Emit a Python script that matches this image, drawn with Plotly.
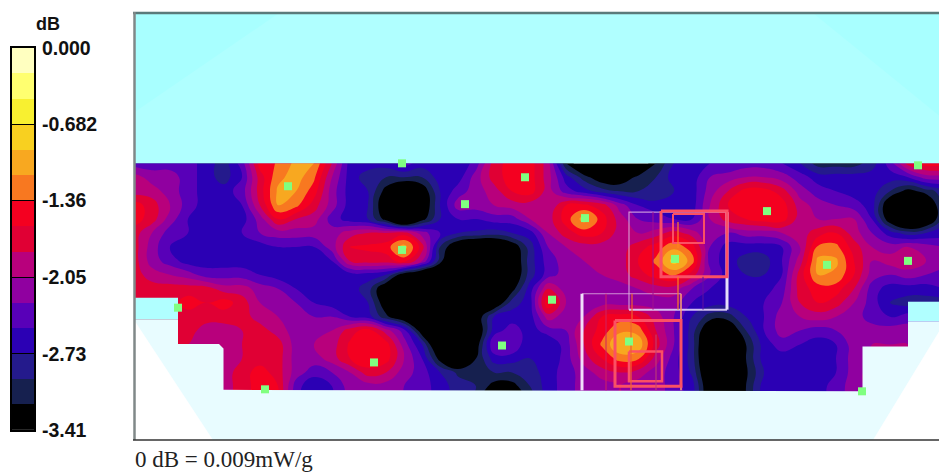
import plotly.graph_objects as go

grid_x = [134,152,170,188,206,224,242,260,278,296,314,332,350,368,386,404,422,440,458,476,494,512,
          530,548,566,584,602,620,638,656,674,692,710,728,746,764,782,800,818,836,854,872,890,908,926,944]
grid_y = [163,177,191,205,219,233,247,261,275,289,303,317,331,345,359,373,387,401]
field_bands = [
 [4,4,4,4,3,2,4,8,8.6,9.8,9.5,6.5,3,3,3,4,3,3,2.5,4,7,8, 8,6,0.5,-2,-2,-2,-2,0.5,2.5,3,3.5,3.5,4,4,3.5,2.5,1,1,1,2,4,7,8,8],
 [6,5,5,4,3,2,3.5,7,9.2,10,8.7,5.5,3,2,1.5,1.5,1.5,3,3,5,7,8, 8,6,3,1,-0.5,-0.5,0.8,1.5,3,3,4.5,5,5.5,5.5,5,4,3,3,3,3,3,3.5,5,5],
 [6,6,5,4,3,3,4,7,9.7,9.5,8,5,3,2.5,0,-2,-0.5,2.5,4,5,6,7.5, 8,6,4,3,2,1.5,1.5,1.5,2.5,3,5,6.5,8,8,7,5,4,3.5,3,3,1.5,0,1,2],
 [8,7,5.5,4,3,2.5,3.5,6.5,9.5,8.8,7,5,3,2.5,-1,-3,-1,2.5,5,5,5.5,6, 6,5.5,7.5,7.7,7,5,3.5,3,3,3,5.5,7.5,8,8,8,6,5,4.5,4,3,-1,-3,-1.5,2],
 [8,7,5,3.5,3,3,3,5,7.5,6.5,6,4,3,2.5,0,-4,0,2.5,3.5,3.5,4,4, 5.5,6,8,10,8,6,4.5,4,3.5,3.5,5.5,7,7.5,8,8,6,5.5,5.5,5.5,3.5,-0.5,-3,-1.5,2],
 [7,5.5,4,3.5,3,3,3.5,4.5,5,5,5,5,6,6.5,6.5,7,5,3.5,2.5,2.3,2,2.5, 3,5.5,7,8,7.5,6,5.5,6,7,6,4.5,4.5,5,5,5.5,6,7,7.5,6,4.5,3,2,2.5,3],
 [7,5,3.5,3,3,3,3,3,3.5,3.5,3.5,5,7.5,7.7,8,10,7,1.5,-1,-2,-2,-0.5, 2,4.5,5.5,6,6,6,7,8,9.2,8,4.5,3,3,3,3.5,5.5,8.7,8.8,7,5.5,5,5.5,5,4.5],
 [7,5,4,3,3,3,3,3,3,3,2.5,3.5,6.5,7,7,8,5.5,1,-2,-3,-3,-1, 2,4,5,5.5,6,6,7.5,8.7,11,9,4,3,2,2,3.5,6,9.8,9.7,7.5,5.5,6,6.3,5.5,5],
 [7,6,5.5,5,4,4,4,3.5,3,3,3,3,3,3,2.5,-0.5,-2,-3,-3,-3,-3,-1, 2,4,5,5,5.5,6,7,8,8.7,7,4.5,3,2.5,2.5,3.5,7,9.5,9.3,7.5,5,4.5,5,4.5,4],
 [7,7,7,7,7,6,6,5,4.5,3.5,3,3,3,2,-1,-3,-3,-3,-3,-3,-2,0, 3,6.5,5,5,5,5,5.5,6,6,4.5,3.5,3,3,3,4,7,8,8,6.5,4,3,3,3,3.5],
 [7,7,7,8,7.5,8,7,5.5,5,4.5,3.5,3,3,2.5,-0.5,-3,-3,-3,-3,-2,-1,2, 3,8.5,5.5,5,5,5,5,5,5,3.5,3,3,3,3.5,4.5,6.5,7.5,7,5.5,4,2.5,2,2,2],
 [7,7,7,7,7,7,7,6,5.5,5,4.5,4.5,3.5,3,0.8,-1,-3,-3,-2,-0.5,2.5,3, 3,6,5,5.5,7.5,8,7.5,6,4.5,2.5,1,1,2.5,3.5,5,5.5,6,5.5,5,4,3.5,4,4,4],
 [7,7,7,7,6,6,6.5,7,6,5,5,5.5,7,8,6,4,-0.5,-3,-3,-1,3,4, 3,4,4.5,6.5,8,9.3,9.1,6.5,4.5,2,-1,-1,1.5,3.5,5,4.5,4,4.5,5,5,5,5,5,5],
 [7,7,7,6.5,6,6,6.5,7,7,5,5.5,6,7.7,8.5,8,5,2.5,-2,-3,-0.3,4.5,4.5, 2.5,2.5,4,6.5,8.7,10.5,10.3,7,4.5,2,-2,-3,0.5,3,4,3.5,3,3.5,5,5.5,5.5,5.5,5,5],
 [6,6,6,6,6,6,6.5,7,7,5,5,6,7.5,8.5,8,5.5,3.5,0,-2,0.5,3,3, 2.5,2.5,4,6,7.5,9,8.7,6,4,2,-2,-3,0.5,3,3,3,3,3.5,5,5.5,5.5,5.5,5,5],
 [6,6,6,6,6,6,7,8,7,5,4,4.5,5.5,7,6.5,5,4,2.5,1.3,1.3,1.5,1.5, 2,3,4,5,6,6.5,6,5,4,2.3,-1.5,-3,0.3,2.5,2.5,2.5,2.5,3.5,5,6,6,6,5,5],
 [6,6,6,6,6,6,7,8,7.5,4,2.5,3.5,5,5,5,4.5,4,3,2,1.5,0,0, 1.5,3,4,5,5,5.5,5,5,4,3,-1,-3,0.5,3,3,3,3,4,5,6,6,6,5,5],
 [6,6,6,6,6,6,7,8,7.5,4,2.5,3.5,5,5,5,4.5,4,3,2,1,-2,-2, 1,3,4,5,5,5.5,5,5,4,3,-1,-3,0.5,3,3,3,3,4,5,6,6,6,5,5],
]

db_min = -3.41
db_step = 3.41 / 15
band_colors = ["#000000","#16204f","#241a8c","#2b00b4","#5800b8","#9000a0","#b8007c",
               "#e00034","#f40020","#f87820","#f8a820","#f8d020","#f8f030","#ffff70","#ffffc0"]
tick_values = [0, -0.682, -1.36, -2.05, -2.73, -3.41]
tick_labels = ["0.000", "-0.682", "-1.36", "-2.05", "-2.73", "-3.41"]

# Peak-search points
point_x = [402,918,288,525,465,767,585,908,402,675,827,552,178,502,629,374,265,862]
point_y = [163,165,186,177,204,211,218,261,250,259,265,300,308,346,342,363,390,392]

# Background regions: (colour, xs, ys)
regions = [
 ("#b0ffff", [134,939,939,134], [12,12,163,163]),
 ("#a8ffff", [134,279,134], [12,12,112]),
 ("#a8ffff", [813,939,939], [12,12,115]),
 ("#b0ffff", [134,178,178,134], [298,298,320,320]),
 ("#b0ffff", [908,939,939,908], [302,302,322,322]),
 ("#e8fcff", [134,178,178,219,223.5,223.5,862.5,862.5,908,908,939,939,134],
             [320,320,344.5,344.5,349,390.5,392,347,347,322,322,441,441]),
 ("#ffffff", [134,213,134], [320,441,441]),
 ("#ffffff", [873,939,939], [441,441,332]),
]

# Zoom-scan frames: (colour, width, xs, ys)
frames = [
 ("rgba(225,180,225,0.8)", 1.2, [629,629,727], [310,212,212]),
 ("rgba(225,210,250,0.9)", 2, [629,727], [310,310]),
 ("rgba(240,235,255,0.95)", 3, [727,727], [212,310]),
 ("#fb5064", 3, [661,727,727,661,661], [211,211,277,277,211]),
 ("#fb5064", 2, [673,704,704,673,673], [214,214,243,243,214]),
 ("rgba(225,180,225,0.8)", 1.2, [582,681], [294,294]),
 ("rgba(245,235,255,0.95)", 3, [582,582], [294,391]),
 ("#ffa070", 1.5, [681,681], [294,391]),
 ("#fb5064", 3, [615,681,681,615,615], [321,321,387,387,321]),
 ("#fb5064", 2.5, [629,662,662,629,629], [352,352,382,382,352]),
 ("#a01090", 1, [653,653], [212,310]),
 ("#ff8020", 1.2, [678,678], [277,310]),
 ("#ff8020", 1.2, [678,678], [222,248]),
 ("#6010a0", 1, [703,703], [277,310]),
 ("#f06030", 1.2, [632,632], [294,321]),
 ("#d02060", 1, [606,606], [294,391]),
 ("#f06030", 1.2, [631,631], [321,391]),
 ("#c04070", 1, [656,656], [335,391]),
]

field_db = [[db_min + db_step * (b + 0.5) for b in row] for row in field_bands]

n = len(band_colors) + 1
scale = [[0, band_colors[0]]]
for k, c in enumerate(band_colors):
    scale.append([(k + 1) / n, c])
scale.append([1, band_colors[-1]])

fig = go.Figure()
fig.add_trace(go.Contour(
    x=grid_x, y=grid_y, z=field_db, colorscale=scale, hoverinfo="skip", showscale=False,
    autocontour=False,
    contours=dict(start=db_min, end=0.001, size=db_step, coloring="fill", showlines=False),
    line=dict(width=0, smoothing=1.3),
))
for color, xs, ys in regions:
    fig.add_trace(go.Scatter(x=xs, y=ys, mode="none", fill="toself", fillcolor=color,
                             hoverinfo="skip", showlegend=False))
for color, width, xs, ys in frames:
    fig.add_trace(go.Scatter(x=xs, y=ys, mode="lines", line=dict(color=color, width=width),
                             hoverinfo="skip", showlegend=False))
fig.add_trace(go.Scatter(x=point_x, y=point_y, mode="markers",
                         marker=dict(symbol="square", size=8, color="#80ff80"),
                         hoverinfo="skip", showlegend=False, cliponaxis=False))

# Colour key
key_edges = [db_min + db_step * i for i in range(len(band_colors) + 1)]
key_scale = [[i / (len(band_colors) - 1), c] for i, c in enumerate(band_colors)]
fig.add_trace(go.Heatmap(
    x=[0, 1], y=key_edges, z=[[i] for i in range(len(band_colors))],
    colorscale=key_scale, showscale=False, hoverinfo="skip", xaxis="x2", yaxis="y2",
))

line_top = dict(type="line", xref="x", yref="y", x0=133, x1=939, y0=12, y1=12, line=dict(color="#5a7a7a", width=2.5))
line_left = dict(type="line", xref="x", yref="y", x0=134.5, x1=134.5, y0=11, y1=441, line=dict(color="#808888", width=2.5))
line_bottom = dict(type="line", xref="x", yref="y", x0=133, x1=939, y0=441, y1=441, line=dict(color="#333333", width=1.5))

area_top, area_bottom = 10, 462
def frac(p):
    return 1 - (p - area_top) / (area_bottom - area_top)

fig.update_layout(
    width=939, height=472, autosize=False,
    margin=dict(l=0, r=0, t=area_top, b=472-area_bottom),
    paper_bgcolor="#ffffff", plot_bgcolor="rgba(0,0,0,0)",
    xaxis=dict(domain=[0, 1], range=[0, 939], visible=False, fixedrange=True),
    yaxis=dict(domain=[0, 1], range=[area_bottom, area_top], visible=False, fixedrange=True),
    xaxis2=dict(domain=[12/939, 34/939], range=[0, 1], anchor="y2", showticklabels=False, ticks="",
                showgrid=False, zeroline=False, showline=True, mirror=True, linecolor="#000000", linewidth=2,
                fixedrange=True),
    yaxis2=dict(domain=[frac(431), frac(47)], range=[db_min, 0], anchor="x2", side="right",
                tickmode="array", tickvals=tick_values, ticktext=tick_labels,
                ticks="inside", ticklen=22, tickwidth=1, tickcolor="#000000",
                showgrid=False, zeroline=False, showline=True, mirror=True, linecolor="#000000", linewidth=2,
                fixedrange=True, ticklabelstandoff=2,
                tickfont=dict(family="Liberation Sans", size=19.5, color="#111111", weight="bold")),
    showlegend=False,
    shapes=[line_top, line_left, line_bottom],
    annotations=[
        dict(text="dB", xref="x", yref="y", x=48, y=23, xanchor="center", yanchor="middle",
             showarrow=False, font=dict(family="Liberation Sans", size=18, color="#111111", weight="bold")),
        dict(text="0 dB = 0.009mW/g", xref="x", yref="y", x=133, y=460, xanchor="left", yanchor="middle",
             showarrow=False, font=dict(family="Liberation Serif", size=23, color="#222222")),
    ],
)
fig.write_html("out.html", config=dict(displayModeBar=False), post_script="document.body.style.margin='0';")
